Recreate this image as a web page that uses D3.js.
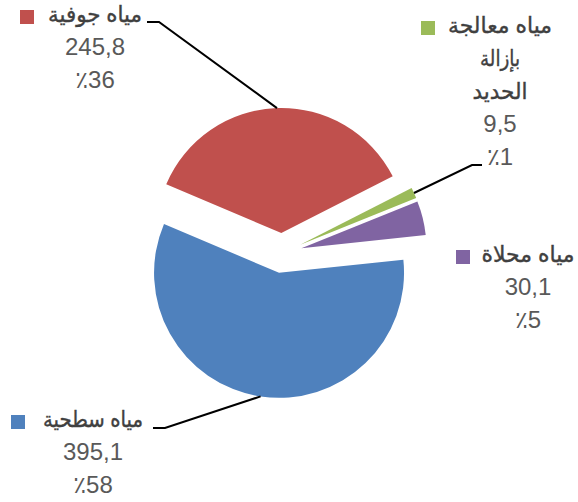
<!DOCTYPE html>
<html>
<head>
<meta charset="utf-8">
<script src="https://cdn.jsdelivr.net/npm/d3@7/dist/d3.min.js"></script>
<style>
  body { margin: 0; background: #fff; }
  text { font-family: "Liberation Sans", "DejaVu Sans", sans-serif; font-size: 24px; fill: #595959; }
  .nm { font-size: 22px; fill: #404040; stroke: #404040; stroke-width: 0.4px; }
</style>
</head>
<body>
<svg id="chart" width="578" height="502"></svg>
<script>
// data
var categories = ["مياه جوفية", "مياه معالجة\nبإزالة\nالحديد", "مياه محلاة", "مياه سطحية"];
var values = [245.8, 9.5, 30.1, 395.1];
var percents = [36, 1, 5, 58];
var colors = ["#C0504D", "#9BBB59", "#8064A2", "#4F81BD"];

// layout
var cx = 282, cy = 253, R = 125, explode = 20;
var startDeg = -67;
var lineH = 33;
// label block: centre x, first baseline, widths of the name lines, legend key x; leader: elbow + end of tick
var labelPos = [
  { x: 95, y: 22, w: [94], key: 20, leader: [[159, 22], [147, 22]] },
  { x: 500, y: 33, w: [104, 40, 55], key: 421, leader: [[472, 165], [482, 165]] },
  { x: 528, y: 262, w: [93], key: 456, leader: null },
  { x: 93, y: 427, w: [100], key: 11, leader: [[165, 428], [153, 428]] }
];

var svg = d3.select("#chart");
var rad = Math.PI / 180;

var pie = d3.pie().sort(null).value(function(d){ return d; })
  .startAngle(startDeg * rad).endAngle(startDeg * rad + 2 * Math.PI);
var arcs = pie(values);

var arc = d3.arc().innerRadius(0).outerRadius(R);
var rim = d3.arc().innerRadius(R).outerRadius(R);

function offset(d) {
  var m = (d.startAngle + d.endAngle) / 2;
  return [explode * Math.sin(m), -explode * Math.cos(m)];
}

var g = svg.append("g").attr("transform", "translate(" + cx + "," + cy + ")");

g.selectAll("path.slice")
  .data(arcs)
  .enter()
  .append("path")
  .attr("class", "slice")
  .attr("d", arc)
  .attr("fill", function(d, i){ return colors[i]; })
  .attr("transform", function(d){ var o = offset(d); return "translate(" + o[0] + "," + o[1] + ")"; });

// leader lines
arcs.forEach(function(d, i) {
  var lp = labelPos[i];
  if (!lp.leader) return;
  var o = offset(d);
  var c = rim.centroid(d);
  var p0 = [cx + c[0] + o[0], cy + c[1] + o[1]];
  svg.append("path")
    .attr("d", d3.line()([p0, lp.leader[0], lp.leader[1]]))
    .attr("fill", "none")
    .attr("stroke", "#000")
    .attr("stroke-width", 2);
});

// labels
arcs.forEach(function(d, i) {
  var lp = labelPos[i];
  var lines = categories[i].split("\n");
  var lab = svg.append("g");
  lines.forEach(function(t, k) {
    lab.append("text")
      .attr("class", "nm")
      .attr("x", lp.x)
      .attr("y", lp.y + k * lineH)
      .attr("text-anchor", "middle")
      .attr("textLength", lp.w[k])
      .attr("lengthAdjust", "spacingAndGlyphs")
      .text(t);
  });
  lab.append("rect")
    .attr("x", lp.key)
    .attr("y", lp.y - 12)
    .attr("width", 14)
    .attr("height", 14)
    .attr("fill", colors[i]);
  var n = lines.length;
  lab.append("text")
    .attr("x", lp.x)
    .attr("y", lp.y + n * lineH)
    .attr("text-anchor", "middle")
    .text(String(values[i]).replace(".", ","));
  lab.append("text")
    .attr("x", lp.x)
    .attr("y", lp.y + (n + 1) * lineH)
    .attr("text-anchor", "middle")
    .attr("direction", "ltr")
    .text("٪" + percents[i]);
});
</script>
</body>
</html>
